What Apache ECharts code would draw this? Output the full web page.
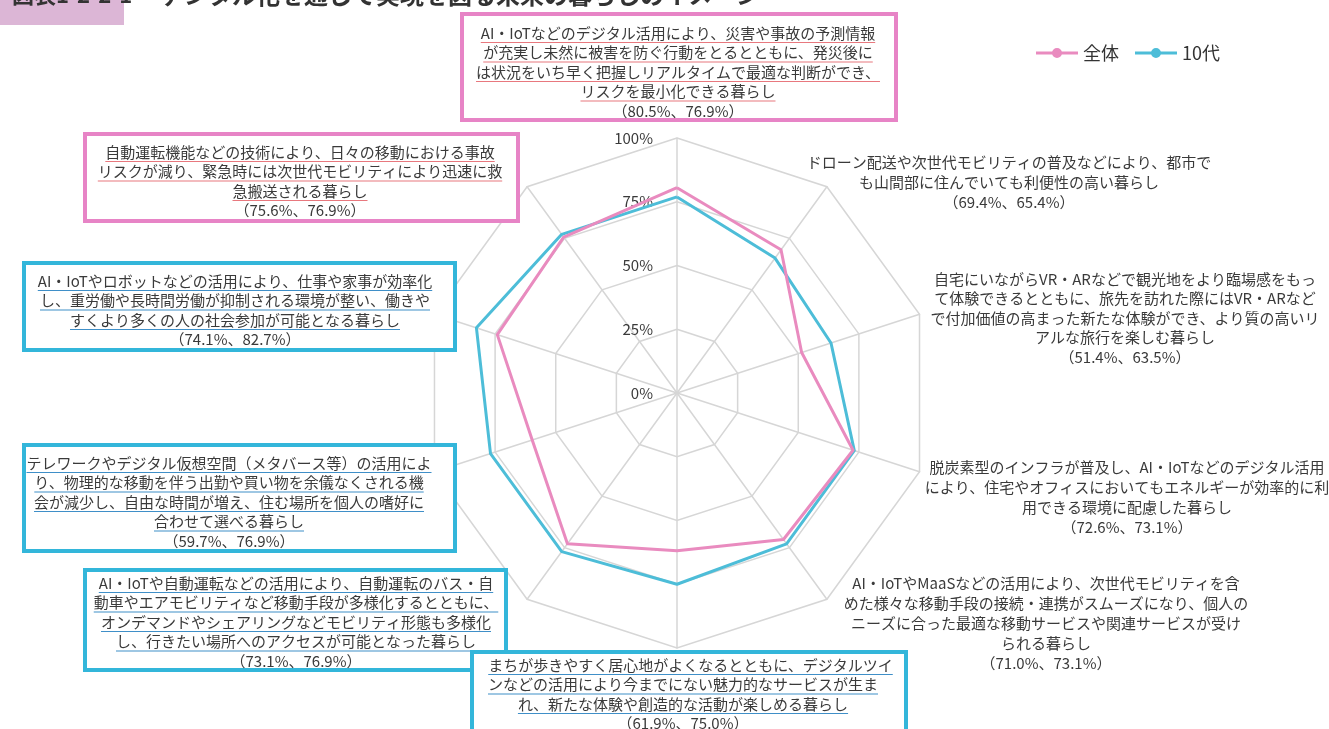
<!DOCTYPE html>
<html>
<head>
<meta charset="utf-8">
<script src="https://cdn.jsdelivr.net/npm/echarts@6/dist/echarts.min.js"></script>
<style>
  html, body { margin: 0; padding: 0; background: #fff; }
  #chart { width: 1329px; height: 729px; }
</style>
</head>
<body>
<div id="chart"></div>
<script>
// 軸ラベル（時計回り、上から）
const labelLines = [
  ['AI・IoTなどのデジタル活用により、災害や事故の予測情報', 'が充実し未然に被害を防ぐ行動をとるとともに、発災後に', 'は状況をいち早く把握しリアルタイムで最適な判断ができ、', 'リスクを最小化できる暮らし'],
  ['ドローン配送や次世代モビリティの普及などにより、都市で', 'も山間部に住んでいても利便性の高い暮らし'],
  ['自宅にいながらVR・ARなどで観光地をより臨場感をもっ', 'て体験できるとともに、旅先を訪れた際にはVR・ARなど', 'で付加価値の高まった新たな体験ができ、より質の高いリ', 'アルな旅行を楽しむ暮らし'],
  ['脱炭素型のインフラが普及し、AI・IoTなどのデジタル活用', 'により、住宅やオフィスにおいてもエネルギーが効率的に利', '用できる環境に配慮した暮らし'],
  ['AI・IoTやMaaSなどの活用により、次世代モビリティを含', 'めた様々な移動手段の接続・連携がスムーズになり、個人の', 'ニーズに合った最適な移動サービスや関連サービスが受け', 'られる暮らし'],
  ['　まちが歩きやすく居心地がよくなるとともに、デジタルツイ', 'ンなどの活用により今までにない魅力的なサービスが生ま', 'れ、新たな体験や創造的な活動が楽しめる暮らし'],
  ['AI・IoTや自動運転などの活用により、自動運転のバス・自', '動車やエアモビリティなど移動手段が多様化するとともに、', 'オンデマンドやシェアリングなどモビリティ形態も多様化', 'し、行きたい場所へのアクセスが可能となった暮らし'],
  ['テレワークやデジタル仮想空間（メタバース等）の活用によ', 'り、物理的な移動を伴う出勤や買い物を余儀なくされる機', '会が減少し、自由な時間が増え、住む場所を個人の嗜好に', '合わせて選べる暮らし'],
  ['AI・IoTやロボットなどの活用により、仕事や家事が効率化', 'し、重労働や長時間労働が抑制される環境が整い、働きや', 'すくより多くの人の社会参加が可能となる暮らし'],
  ['自動運転機能などの技術により、日々の移動における事故', 'リスクが減り、緊急時には次世代モビリティにより迅速に救', '急搬送される暮らし']
]
const seriesNames = ['全体', '10代']
const allValues = [80.5, 69.4, 51.4, 72.6, 71.0, 61.9, 73.1, 59.7, 74.1, 75.6]
const teenValues = [76.9, 65.4, 63.5, 73.1, 73.1, 75.0, 76.9, 76.9, 82.7, 76.9]
const tickValues = [0, 25, 50, 75, 100]

const PINK = '#e98bbf'
const BLUE = '#4dbdd8'
const BOX_PINK = '#e784c6'
const BOX_BLUE = '#33b6da'
const FONT = '"Noto Sans CJK JP", "Noto Sans", sans-serif'
const TEXT = '#3a3a3a'

// ラベル配置 (cx, 1行目y, 行間, 枠, 重なり順)
const labelLayout = [
  { cx: 678, y: 33, lh: 19.5, box: [462, 14, 434, 106], color: BOX_PINK, ul: '#e8787e', z: 100 },
  { cx: 1009, y: 162, lh: 20, z: 100 },
  { cx: 1125, y: 279, lh: 19.5, z: 100 },
  { cx: 1127, y: 467, lh: 20, z: 100 },
  { cx: 1046, y: 583, lh: 20, z: 100 },
  { cx: 683, y: 665, lh: 19.5, box: [472, 652, 434, 110], color: BOX_BLUE, ul: '#3f8fc8', z: 120 },
  { cx: 296, y: 583, lh: 19.5, box: [85, 570, 421, 100], color: BOX_BLUE, ul: '#3f8fc8', z: 110 },
  { cx: 229, y: 463, lh: 19.5, box: [24, 445, 431, 106], color: BOX_BLUE, ul: '#3f8fc8', z: 100 },
  { cx: 235, y: 281, lh: 19.5, box: [24, 263, 431, 87], color: BOX_BLUE, ul: '#3f8fc8', z: 100 },
  { cx: 300, y: 152, lh: 19.5, box: [85, 134, 433, 87], color: BOX_PINK, ul: '#e8787e', z: 100 }
]

const ctx = document.createElement('canvas').getContext('2d')
ctx.font = '15px ' + FONT
const measure = s => ctx.measureText(s).width

const graphics = []

// タイトル（上端で切れている）
graphics.push({ type: 'rect', shape: { x: 0, y: 0, width: 124, height: 25 }, style: { fill: '#dcb6d6' }, z: 100 })
graphics.push({ type: 'text', x: 12, y: -5, style: { text: '図表1-2-2-1', font: 'bold 22px ' + FONT, fill: '#333', verticalAlign: 'middle' }, z: 101 })
graphics.push({ type: 'text', x: 160, y: -5, style: { text: 'デジタル化を通じて実現を図る未来の暮らしのイメージ', font: 'bold 24px ' + FONT, fill: '#333', verticalAlign: 'middle' }, z: 101 })

labelLines.forEach((lines, i) => {
  const lay = labelLayout[i]
  if (lay.box) {
    const [bx, by, bw, bh] = lay.box
    graphics.push({
      type: 'rect',
      shape: { x: bx, y: by, width: bw, height: bh },
      style: { fill: '#fff', stroke: lay.color, lineWidth: 4 },
      z: lay.z
    })
  }
  const all = lines.concat(['（' + allValues[i].toFixed(1) + '%、' + teenValues[i].toFixed(1) + '%）'])
  all.forEach((s, j) => {
    const y = lay.y + j * lay.lh
    graphics.push({
      type: 'text', x: lay.cx, y: y,
      style: { text: s, font: '15px ' + FONT, fill: TEXT, align: 'center', verticalAlign: 'middle' },
      z: lay.z + 1
    })
    if (lay.box && j < lines.length) {
      const lead = s.length - s.replace(/^　+/, '').length
      const total = measure(s)
      const x0 = lay.cx - total / 2 + measure(s.slice(0, lead))
      const x1 = lay.cx + total / 2
      graphics.push({
        type: 'line',
        shape: { x1: x0, y1: y + 9.5, x2: x1, y2: y + 9.5 },
        style: { stroke: lay.ul, lineWidth: 1.2 },
        z: lay.z + 2
      })
    }
  })
})

// ECharts のレーダーは反時計回りなので並びを反転
const order = [0, 9, 8, 7, 6, 5, 4, 3, 2, 1]

const myChart = echarts.init(document.getElementById('chart'))

const option = {
  animation: false,
  legend: {
    left: 1031,
    top: 39,
    data: seriesNames,
    itemWidth: 42,
    itemHeight: 12,
    itemGap: 16,
    icon: 'path://M0,4.5H42V7.5H0Z M26,6A5,5 0 1,1 16,6A5,5 0 1,1 26,6Z',
    textStyle: { fontSize: 18, color: '#333', fontFamily: FONT }
  },
  radar: {
    center: [677, 393],
    radius: 255,
    startAngle: 90,
    splitNumber: 4,
    shape: 'polygon',
    indicator: order.map(k => ({ name: labelLines[k].join('').trim(), min: 0, max: 100 })),
    axisName: { show: false },
    splitLine: { lineStyle: { color: '#d6d6d6', width: 1.5 } },
    splitArea: { show: false },
    axisLine: { lineStyle: { color: '#d6d6d6', width: 1.5 } },
    axisTick: { show: false }
  },
  polar: { center: [677, 393], radius: 255 },
  angleAxis: { show: false, type: 'value', min: 0, max: 360, startAngle: 90 },
  radiusAxis: {
    type: 'value',
    min: tickValues[0],
    max: tickValues[tickValues.length - 1],
    interval: tickValues[1] - tickValues[0],
    axisLine: { show: false },
    axisTick: { show: false },
    splitLine: { show: false },
    axisLabel: { formatter: '{value}%', fontSize: 15, color: '#3a3a3a', fontFamily: FONT, margin: 24 }
  },
  graphic: graphics,
  series: [
    {
      type: 'radar',
      symbol: 'none',
      z: 3,
      data: [
        {
          name: seriesNames[1],
          value: order.map(k => teenValues[k]),
          itemStyle: { color: BLUE },
          lineStyle: { color: BLUE, width: 3 }
        },
        {
          name: seriesNames[0],
          value: order.map(k => allValues[k]),
          itemStyle: { color: PINK },
          lineStyle: { color: PINK, width: 3 }
        }
      ]
    }
  ]
}

myChart.setOption(option)

window.addEventListener('resize', () => {
  myChart.resize()
})
</script>
</body>
</html>
